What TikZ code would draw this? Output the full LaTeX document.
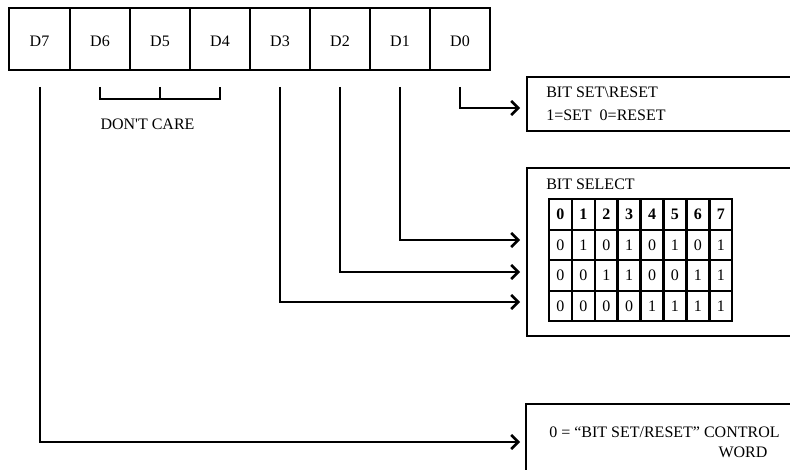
\documentclass[tikz,border=0pt]{standalone}
\usepackage{fontspec}
\setmainfont{Liberation Serif}
\usetikzlibrary{arrows.meta}
\begin{document}
\begin{tikzpicture}[x=1pt,y=-1pt,
  line width=2.5pt,
  txt/.style={inner sep=0pt, font=\fontsize{16}{19}\selectfont},
  conn/.style={line width=2.5pt, -{Straight Barb[length=7pt,width=14pt,line width=2.5pt]}},
  plain/.style={line width=2.5pt}]
\useasboundingbox (0,0) rectangle (790,470);
% register
\draw[plain] (9,8) rectangle (490,70);
\foreach \x in {70,130,190,250,310,370,430} \draw[plain] (\x,8) -- (\x,70);
\node[txt] (d7) at (39.5,41) {D7};
\node[txt] (d6) at (100,41) {D6};
\node[txt] (d5) at (160,41) {D5};
\node[txt] (d4) at (220,41) {D4};
\node[txt] (d3) at (280,41) {D3};
\node[txt] (d2) at (340,41) {D2};
\node[txt] (d1) at (400,41) {D1};
\node[txt] (d0) at (460,41) {D0};
% line starts
\coordinate (s7) at (40,87);
\coordinate (s3) at (280,87);
\coordinate (s2) at (340,87);
\coordinate (s1) at (400,87);
\coordinate (s0) at (460,87);
% don't care bracket
\draw[plain] (100,87) -- (100,99) -- (220,99) -- (220,87);
\draw[plain] (160,87) -- (160,99);
\node[txt] (dc) at (147.5,124) {DON\textquotesingle T CARE};
% boxes
\draw[plain] (800,77) -- (527,77) -- (527,131) -- (800,131);
\node[txt, anchor=west] (bs1) at (545,92) {BIT SET\textbackslash RESET};
\node[txt, anchor=west] (bs2) at (545,115) {1=SET\ \ 0=RESET};
\draw[plain] (800,168) -- (527,168) -- (527,336) -- (800,336);
\node[txt, anchor=west] (sel) at (545,184) {BIT SELECT};
\draw[plain] (800,404) -- (526,404) -- (526,480);
\node[txt, anchor=west] (cw1) at (548,432) {0 = “BIT SET/RESET” CONTROL};
\node[txt] (cw2) at (743,452) {WORD};
% table
\foreach \r/\ya/\yb in {0/199/230,1/230/260,2/260/291,3/291/321}{
  \foreach \c in {0,...,7}{
    \pgfmathsetmacro{\xa}{549+\c*22.9}
    \pgfmathsetmacro{\xb}{549+(\c+1)*22.9}
    \draw[plain] (\xa,\ya) rectangle (\xb,\yb);
  }
}
\foreach \c in {0,...,7}{
  \pgfmathsetmacro{\xc}{549+(\c+0.5)*22.9}
  \node[txt, font=\fontsize{16}{19}\selectfont\bfseries] at (\xc,214.5) {\c};
}
\foreach \r/\y/\vals in {1/245/{0,1,0,1,0,1,0,1},2/275.5/{0,0,1,1,0,0,1,1},3/306/{0,0,0,0,1,1,1,1}}{
  \foreach \v [count=\c from 0] in \vals {
    \pgfmathsetmacro{\xc}{549+(\c+0.5)*22.9}
    \node[txt] at (\xc,\y) {\v};
  }
}
% arrow targets
\coordinate (t0) at (520,108);
\coordinate (t1) at (520,240);
\coordinate (t2) at (520,272);
\coordinate (t3) at (520,302);
\coordinate (t7) at (520,442);
% connectors
\draw[conn] (s0) |- (t0);
\draw[conn] (s1) |- (t1);
\draw[conn] (s2) |- (t2);
\draw[conn] (s3) |- (t3);
\draw[conn] (s7) |- (t7);
\end{tikzpicture}
\end{document}
